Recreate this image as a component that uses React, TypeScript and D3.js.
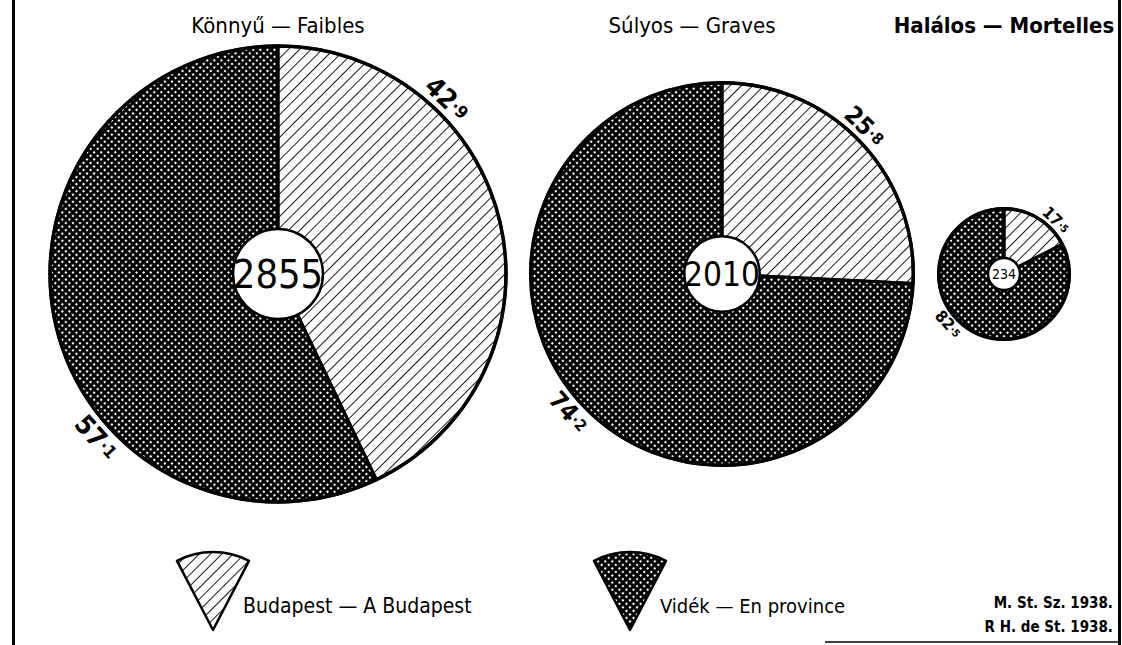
import * as d3 from 'd3';

const categories = ['Könnyű — Faibles', 'Súlyos — Graves', 'Halálos — Mortelles'];
const totals = [2855, 2010, 234];
const budapestPct = [42.9, 25.8, 17.5];
const videkPct = [57.1, 74.2, 82.5];
const legendLabels = ['Budapest — A Budapest', 'Vidék — En province'];
const credits = ['M. St. Sz. 1938.', 'R H. de St. 1938.'];

const W = 1122;
const H = 645;
const narrow = "'Liberation Sans Narrow', 'DejaVu Sans Condensed', sans-serif";
const numFont = "'DejaVu Sans Condensed', 'Liberation Sans Narrow', sans-serif";

// layout of the three circles
const centersX = [278, 722, 1004];
const centerY = 274;
const fills = ['url(#hatch)', 'url(#cross)'];
const labelAngles = [44, 228];

function PctLabel({ value, r, angle, size }: { value: number; r: number; angle: number; size: number }) {
    const a = (angle * Math.PI) / 180;
    const d = r + size * 0.6;
    const x = d * Math.sin(a);
    const y = -d * Math.cos(a);
    const rot = angle > 180 ? angle - 180 : angle;
    const [whole, dec] = value.toFixed(1).split('.');
    return (
        <text
            transform={`translate(${x},${y}) rotate(${rot})`}
            textAnchor="middle"
            dominantBaseline="central"
            fontFamily={numFont}
            fontWeight="bold"
            fontSize={size}
        >
            {whole}
            <tspan fontSize={size * 0.65}>·{dec}</tspan>
        </text>
    );
}

export default function App() {
    const rScale = d3.scaleSqrt().domain([0, d3.max(totals) as number]).range([0, 228]);
    const pie = d3.pie<number>().sort(null).value(d => d);
    const arc = d3.arc<d3.PieArcDatum<number>>().innerRadius(0);
    const wedge = d3.arc()({ innerRadius: 0, outerRadius: 78, startAngle: -0.48, endAngle: 0.48 }) as string;

    return (
        <svg width={W} height={H} style={{ position: 'absolute', left: 0, top: 0, background: '#fff' }}>
            <defs>
                <pattern id="hatch" patternUnits="userSpaceOnUse" width={8} height={8} patternTransform="rotate(45)">
                    <rect width={8} height={8} fill="#fff" />
                    <line x1={0} y1={0} x2={0} y2={8} stroke="#000" strokeWidth={1.8} />
                </pattern>
                <pattern id="cross" patternUnits="userSpaceOnUse" width={5} height={5} patternTransform="rotate(45)">
                    <rect width={5} height={5} fill="#fff" />
                    <rect x={0} y={0} width={5} height={2.9} fill="#000" />
                    <rect x={0} y={0} width={2.9} height={5} fill="#000" />
                </pattern>
            </defs>

            {/* frame */}
            <line x1={13.5} y1={0} x2={13.5} y2={H} stroke="#000" strokeWidth={3} />
            <line x1={1119.5} y1={0} x2={1119.5} y2={H} stroke="#000" strokeWidth={3} />
            <line x1={825} y1={642} x2={1120} y2={642} stroke="#000" strokeWidth={1.5} />

            {categories.map((cat, i) => {
                const r = rScale(totals[i]);
                const arcs = pie([budapestPct[i], videkPct[i]]);
                const holeR = Math.max(16, r * 0.197);
                const lblSize = 12 + r * 0.064;
                return (
                    <g key={cat}>
                        <text
                            x={centersX[i] - (i === 1 ? 30 : 0)}
                            y={33}
                            textAnchor="middle"
                            fontFamily={narrow}
                            fontSize={22}
                            fontWeight={i === 2 ? 'bold' : 'normal'}
                        >
                            {cat}
                        </text>
                        <g transform={`translate(${centersX[i]},${centerY})`}>
                            {arcs.map((a, j) => (
                                <path key={j} d={arc.outerRadius(r)(a) as string} fill={fills[j]} stroke="#000" strokeWidth={3} strokeLinejoin="round" />
                            ))}
                            <circle r={r} fill="none" stroke="#000" strokeWidth={3.5} />
                            <circle r={holeR} fill="#fff" stroke="#000" strokeWidth={2.5} />
                            <text
                                textAnchor="middle"
                                dominantBaseline="central"
                                fontFamily={numFont}
                                fontSize={holeR * 0.88}
                            >
                                {totals[i]}
                            </text>
                            <PctLabel value={budapestPct[i]} r={r} angle={labelAngles[0]} size={lblSize} />
                            <PctLabel value={videkPct[i]} r={r} angle={labelAngles[1]} size={lblSize} />
                        </g>
                    </g>
                );
            })}

            {/* legend */}
            {legendLabels.map((lab, i) => {
                const ax = i === 0 ? 213 : 630;
                return (
                    <g key={lab}>
                        <path d={wedge} transform={`translate(${ax},630)`} fill={fills[i]} stroke="#000" strokeWidth={2.5} strokeLinejoin="round" />
                        <text x={ax + 30} y={613} fontFamily={narrow} fontSize={i === 0 ? 21 : 20}>
                            {lab}
                        </text>
                    </g>
                );
            })}

            {credits.map((c, i) => (
                <text key={c} x={1113} y={608 + i * 24} textAnchor="end" fontFamily={narrow} fontWeight="bold" fontSize={15}>
                    {c}
                </text>
            ))}
        </svg>
    );
}
